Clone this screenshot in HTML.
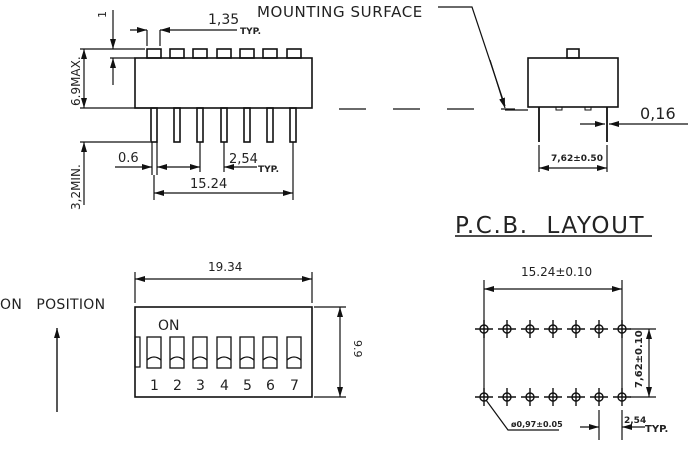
<!DOCTYPE html>
<html><head><meta charset="utf-8"><style>
html,body{margin:0;padding:0;background:#fff;}
svg{display:block;}
text{font-family:"DejaVu Sans","Liberation Sans",sans-serif;fill:#222;}
</style></head><body>
<svg width="700" height="453" viewBox="0 0 700 453" xmlns="http://www.w3.org/2000/svg">
<defs>
<marker id="a" viewBox="0 0 10 6" refX="10" refY="3" markerWidth="10" markerHeight="6" orient="auto-start-reverse" markerUnits="userSpaceOnUse"><path d="M0,0 L10,3 L0,6 z" fill="#111"/></marker>
</defs>
<g stroke="#111" stroke-width="1.6" fill="none">
<!-- top view body -->
<rect x="135" y="58" width="177" height="50"/>
<g>
<rect x="147" y="49" width="14" height="9"/><rect x="170" y="49" width="14" height="9"/><rect x="193" y="49" width="14" height="9"/><rect x="217" y="49" width="14" height="9"/><rect x="240" y="49" width="14" height="9"/><rect x="263" y="49" width="14" height="9"/><rect x="287" y="49" width="14" height="9"/>
</g>
<g>
<rect x="151" y="108" width="6" height="34"/><rect x="174" y="108" width="6" height="34"/><rect x="197" y="108" width="6" height="34"/><rect x="221" y="108" width="6" height="34"/><rect x="244" y="108" width="6" height="34"/><rect x="267" y="108" width="6" height="34"/><rect x="290" y="108" width="6" height="34"/>
</g>
<g stroke-width="1.2">
<line x1="147" y1="30" x2="147" y2="46"/><line x1="160" y1="30" x2="160" y2="46"/>
<line x1="147" y1="30" x2="130" y2="30" marker-start="url(#a)"/>
<line x1="160" y1="30" x2="237" y2="30" marker-start="url(#a)"/>
<line x1="80" y1="49" x2="145" y2="49"/>
<line x1="110" y1="58" x2="135" y2="58"/>
<line x1="113" y1="10" x2="113" y2="49" marker-end="url(#a)"/>
<line x1="113" y1="85" x2="113" y2="58" marker-end="url(#a)"/>
<line x1="84" y1="49" x2="84" y2="108" marker-start="url(#a)" marker-end="url(#a)"/>
<line x1="80" y1="108" x2="150" y2="108"/>
<line x1="80" y1="142" x2="150" y2="142"/>
<line x1="84" y1="205" x2="84" y2="142" marker-end="url(#a)"/>
<line x1="152" y1="142" x2="152" y2="175"/><line x1="157" y1="142" x2="157" y2="175"/>
<line x1="200" y1="142" x2="200" y2="172"/><line x1="224" y1="142" x2="224" y2="172"/>
<line x1="115" y1="167" x2="152" y2="167" marker-end="url(#a)"/>
<line x1="157" y1="167" x2="200" y2="167" marker-start="url(#a)" marker-end="url(#a)"/>
<line x1="224" y1="167" x2="257" y2="167" marker-start="url(#a)"/>
<line x1="154" y1="175" x2="154" y2="200"/><line x1="293" y1="142" x2="293" y2="200"/>
<line x1="154" y1="193" x2="293" y2="193" marker-start="url(#a)" marker-end="url(#a)"/>
<line x1="339" y1="109" x2="515" y2="109" stroke-dasharray="27,27"/>
<polyline points="438,7 472,7 505,106"/>
<line x1="490" y1="60" x2="505" y2="108" marker-end="url(#a)"/>
<line x1="505" y1="110" x2="528" y2="110"/>
</g>
<!-- side view -->
<rect x="528" y="58" width="90" height="49"/>
<rect x="567" y="49" width="12" height="9"/>
<rect x="556" y="107" width="6" height="3" stroke-width="1"/><rect x="585" y="107" width="6" height="3" stroke-width="1"/>
<line x1="539" y1="107" x2="539" y2="142" stroke-width="1.8"/>
<line x1="607" y1="107" x2="607" y2="142" stroke-width="1.8"/>
<g stroke-width="1.2">
<line x1="580" y1="124" x2="605" y2="124" marker-end="url(#a)"/>
<line x1="688" y1="124" x2="609" y2="124" marker-end="url(#a)"/>
<line x1="539" y1="145" x2="539" y2="172"/><line x1="607" y1="145" x2="607" y2="172"/>
<line x1="539" y1="168" x2="607" y2="168" marker-start="url(#a)" marker-end="url(#a)"/>
</g>
<!-- bottom-left -->
<rect x="135" y="307" width="177" height="90"/>
<g stroke-width="1.2">
<line x1="135" y1="272" x2="135" y2="303"/><line x1="312" y1="272" x2="312" y2="303"/>
<line x1="135" y1="279" x2="312" y2="279" marker-start="url(#a)" marker-end="url(#a)"/>
<line x1="314" y1="307" x2="346" y2="307"/><line x1="314" y1="397" x2="346" y2="397"/>
<line x1="340" y1="307" x2="340" y2="397" marker-start="url(#a)" marker-end="url(#a)"/>
<rect x="135" y="337" width="5" height="30"/>
</g>
<g stroke-width="1.3">
<rect x="147" y="337" width="14" height="31"/><path d="M147,360 Q154,354 161,360"/>
<rect x="170" y="337" width="14" height="31"/><path d="M170,360 Q177,354 184,360"/>
<rect x="193" y="337" width="14" height="31"/><path d="M193,360 Q200,354 207,360"/>
<rect x="217" y="337" width="14" height="31"/><path d="M217,360 Q224,354 231,360"/>
<rect x="240" y="337" width="14" height="31"/><path d="M240,360 Q247,354 254,360"/>
<rect x="263" y="337" width="14" height="31"/><path d="M263,360 Q270,354 277,360"/>
<rect x="287" y="337" width="14" height="31"/><path d="M287,360 Q294,354 301,360"/>
</g>
<line x1="57" y1="412" x2="57" y2="328" marker-end="url(#a)" stroke-width="1.4"/>
<!-- PCB -->
<g stroke-width="1.2">
<line x1="484" y1="280" x2="484" y2="397"/>
<line x1="622" y1="280" x2="622" y2="397"/>
<line x1="484" y1="289" x2="622" y2="289" marker-start="url(#a)" marker-end="url(#a)"/>
<line x1="630" y1="329" x2="656" y2="329"/><line x1="630" y1="397" x2="656" y2="397"/>
<line x1="649" y1="329" x2="649" y2="397" marker-start="url(#a)" marker-end="url(#a)"/>
<polyline points="486,400 508,430 559,430"/>
<line x1="599" y1="410" x2="599" y2="440"/><line x1="622" y1="410" x2="622" y2="440"/>
<line x1="580" y1="427" x2="599" y2="427" marker-end="url(#a)"/>
<line x1="645" y1="427" x2="622" y2="427" marker-end="url(#a)"/>
</g>
<g stroke-width="1.4">
<g id="h"><circle cx="484" cy="329" r="4"/><line x1="475" y1="329" x2="493" y2="329"/><line x1="484" y1="320" x2="484" y2="338"/></g>
<use href="#h" x="23"/><use href="#h" x="46"/><use href="#h" x="69"/><use href="#h" x="92"/><use href="#h" x="115"/><use href="#h" x="138"/>
<use href="#h" y="68"/><use href="#h" x="23" y="68"/><use href="#h" x="46" y="68"/><use href="#h" x="69" y="68"/><use href="#h" x="92" y="68"/><use href="#h" x="115" y="68"/><use href="#h" x="138" y="68"/>
</g>
<line x1="455" y1="236" x2="652" y2="236" stroke-width="1.6"/>
</g>
<!-- text -->
<text x="208" y="24" font-size="14">1,35</text>
<text x="240" y="34" font-size="9" font-weight="bold">TYP.</text>
<text x="0" y="0" font-size="11" transform="translate(106,18) rotate(-90)">1</text>
<text x="0" y="0" font-size="12" transform="translate(80,106) rotate(-90)">6.9MAX.</text>
<text x="0" y="0" font-size="12" transform="translate(80,210) rotate(-90)">3,2MIN.</text>
<text x="118" y="162" font-size="13">0.6</text>
<text x="229" y="163" font-size="13">2,54</text>
<text x="258" y="172" font-size="9" font-weight="bold">TYP.</text>
<text x="190" y="188" font-size="13">15.24</text>
<text x="257" y="17" font-size="15" letter-spacing="0.6">MOUNTING SURFACE</text>
<text x="640" y="119" font-size="16">0,16</text>
<text x="551" y="161" font-size="9" font-weight="bold">7,62±0.50</text>
<text x="208" y="271" font-size="12">19.34</text>
<text x="0" y="0" font-size="11" transform="translate(354,340) rotate(90)">9.9</text>
<text x="158" y="330" font-size="14">ON</text>
<g font-size="14"><text x="150" y="390">1</text><text x="173" y="390">2</text><text x="196" y="390">3</text><text x="220" y="390">4</text><text x="243" y="390">5</text><text x="266" y="390">6</text><text x="290" y="390">7</text></g>
<text x="0" y="309" font-size="14" letter-spacing="0.3">ON&#160;&#160;&#160;POSITION</text>
<text x="455" y="233" font-size="23" letter-spacing="1.6" font-family="Liberation Sans,sans-serif">P.C.B.&#160; LAYOUT</text>
<text x="521" y="276" font-size="12">15.24±0.10</text>
<text x="0" y="0" font-size="10" font-weight="bold" transform="translate(642,388) rotate(-90)">7,62±0.10</text>
<text x="511" y="427" font-size="8" font-weight="bold">ø0,97±0.05</text>
<text x="624" y="423" font-size="9" font-weight="bold">2,54</text>
<text x="645" y="432" font-size="10" font-weight="bold">TYP.</text>
</svg>
</body></html>
